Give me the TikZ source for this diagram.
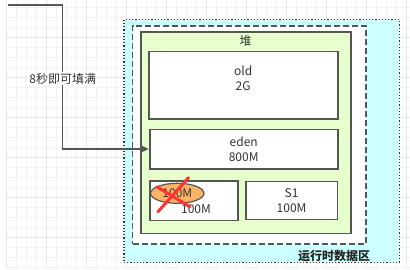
\documentclass[tikz,border=0pt]{standalone}
\usepackage{fontspec}
\setmainfont{Noto Sans CJK SC}
\usetikzlibrary{arrows.meta,shapes.geometric}
\definecolor{gridminor}{HTML}{F2F2F2}
\definecolor{gridmajor}{HTML}{E6E6E6}
\definecolor{areafill}{HTML}{CCFFFF}
\definecolor{heapfill}{HTML}{E6FFCC}
\definecolor{edgegray}{HTML}{555555}
\definecolor{textgray}{HTML}{333333}
\definecolor{survfill}{HTML}{FFB366}
\definecolor{crossred}{HTML}{FF3333}
\tikzset{
  box/.style={draw=edgegray, line width=1.6pt, fill=white, inner sep=0pt},
  areabox/.style={draw=textgray, line width=1.2pt, dotted, fill=areafill, inner sep=0pt},
  dashbox/.style={draw=edgegray, line width=1.4pt, dash pattern=on 6pt off 3pt, fill=white, inner sep=0pt},
  heapbox/.style={draw=edgegray, line width=1.6pt, fill=heapfill, inner sep=0pt},
  txt/.style={text=textgray, font=\fontsize{12pt}{15pt}\selectfont, align=center, inner sep=1pt},
  flow/.style={draw=edgegray, line width=1.3pt, -{Triangle[length=7pt,width=6pt]}},
  crossline/.style={draw=crossred, line width=3pt, line cap=round}
}
\begin{document}
\begin{tikzpicture}[x=1pt, y=-1pt]
\useasboundingbox (0,0) rectangle (410,269);
\fill[white] (0,0) rectangle (410,269);

% background grid
\foreach \i in {0,...,40} {
  \pgfmathsetmacro{\gx}{6.7+10*\i}
  \pgfmathtruncatemacro{\mj}{mod(\i,4)}
  \ifnum\mj=0 \draw[gridmajor, line width=0.6pt] (\gx,0) -- (\gx,269);
  \else \draw[gridminor, line width=0.6pt] (\gx,0) -- (\gx,269); \fi
}
\foreach \i in {0,...,26} {
  \pgfmathsetmacro{\gy}{7.3+10*\i}
  \pgfmathtruncatemacro{\mj}{mod(\i,4)}
  \ifnum\mj=3 \draw[gridmajor, line width=0.6pt] (6.7,\gy) -- (410,\gy);
  \else \draw[gridminor, line width=0.6pt] (6.7,\gy) -- (410,\gy); \fi
}

% runtime data area and heap
\node[areabox, minimum width=275.3pt, minimum height=242.8pt] (area) at (261.7,140.9) {};
\node[dashbox, minimum width=233.3pt, minimum height=218pt] (jvm) at (249.35,135) {};
\node[heapbox, minimum width=210pt, minimum height=201.3pt] (heap) at (245.7,132.7) {};
\node[txt] (heaplbl) at (245.7,41) {堆};

% generations
\node[box, minimum width=189pt, minimum height=67.7pt] (old) at (243.2,85.2) {};
\node[txt] (oldlbl) at (243.2,78.3) {old\\2G};
\node[box, minimum width=188pt, minimum height=39.4pt] (eden) at (243.7,149) {};
\node[txt] at (eden) {eden\\800M};
\node[box, minimum width=88pt, minimum height=39.5pt] (s0) at (194.1,200.6) {};
\node[txt] (s0lbl) at (196,209) {100M};
\node[box, minimum width=91.6pt, minimum height=38pt] (s1) at (291.6,200.6) {};
\node[txt] at (s1) {S1\\100M};

% surviving block, crossed out
\node[draw=edgegray, line width=1.2pt, fill=survfill, ellipse, minimum width=53.3pt, minimum height=20pt, inner sep=0pt] (surv) at (177.3,193.3) {};
\node[txt] at (surv) {100M};
\coordinate (xa1) at (158,211.7);
\coordinate (xa2) at (188.5,177.7);
\coordinate (xb1) at (156.7,186.7);
\coordinate (xb2) at (190,206.7);
\draw[crossline] (xa1) -- (xa2);
\draw[crossline] (xb1) -- (xb2);

\node[txt, font=\fontsize{12pt}{15pt}\selectfont\bfseries, text=black!85] (arealbl) at (334,256) {运行时数据区};

% allocation flow into eden
\coordinate (src) at (8,5);
\coordinate (bend) at (62.7,149);
\draw[flow] (src) -| (bend) -- (eden.west);
\node[txt, fill=white, inner sep=0.5pt] (rate) at (62.7,78.5) {8秒即可填满};
\end{tikzpicture}
\end{document}
